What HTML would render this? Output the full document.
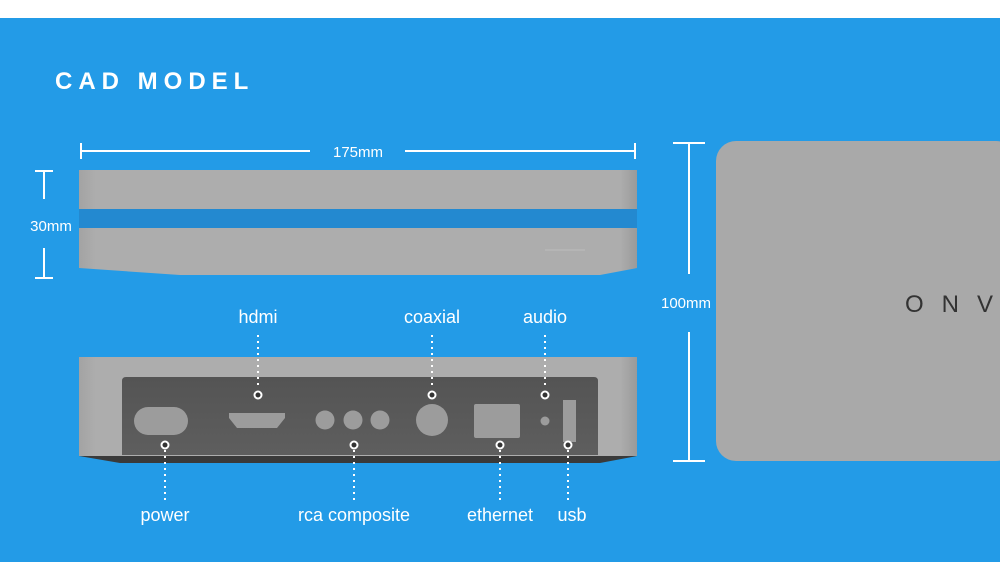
<!DOCTYPE html>
<html><head><meta charset="utf-8"><style>
html,body{margin:0;padding:0;width:1000px;height:562px;overflow:hidden;background:#fff}
svg{display:block}
text{font-family:"Liberation Sans",sans-serif}
</style></head><body>
<svg width="1000" height="562" viewBox="0 0 1000 562">
<defs>
<linearGradient id="g1" x1="0" x2="1" y1="0" y2="0">
<stop offset="0" stop-color="#a3a3a3"/><stop offset="0.03" stop-color="#adadad"/><stop offset="0.97" stop-color="#adadad"/><stop offset="1" stop-color="#9a9a9a"/>
</linearGradient>
<linearGradient id="g2" x1="0" x2="0" y1="0" y2="1">
<stop offset="0" stop-color="#545454"/><stop offset="1" stop-color="#5e5e5e"/>
</linearGradient>
</defs>
<rect x="0" y="18" width="1000" height="544" fill="#239be7"/>
<text x="55" y="89" fill="#fff" font-size="24" font-weight="bold" letter-spacing="6">CAD MODEL</text>

<g stroke="#fff" stroke-width="2">
<line x1="81" y1="151" x2="310" y2="151"/><line x1="405" y1="151" x2="635" y2="151"/>
<line x1="81" y1="143" x2="81" y2="159"/><line x1="635" y1="143" x2="635" y2="159"/>
<line x1="44" y1="171" x2="44" y2="199"/><line x1="44" y1="248" x2="44" y2="278"/>
<line x1="35" y1="171" x2="53" y2="171"/><line x1="35" y1="278" x2="53" y2="278"/>
<line x1="689" y1="143" x2="689" y2="274"/><line x1="689" y1="332" x2="689" y2="461"/>
<line x1="673" y1="143" x2="705" y2="143"/><line x1="673" y1="461" x2="705" y2="461"/>
</g>
<text x="358" y="157" fill="#fff" font-size="15" text-anchor="middle">175mm</text>
<text x="51" y="231" fill="#fff" font-size="15" text-anchor="middle">30mm</text>
<text x="686" y="308" fill="#fff" font-size="15" text-anchor="middle">100mm</text>

<path d="M79 170 H637 V268 L600 275 H180 L79 268 Z" fill="url(#g1)"/>
<rect x="79" y="209" width="558" height="19" fill="#2389d0"/>
<line x1="545" y1="250" x2="585" y2="250" stroke="#b5b5b5" stroke-width="2"/>

<path d="M79 357 H637 V456 L600 463 H120 L79 456 Z" fill="#3a3a3a"/>
<rect x="79" y="357" width="558" height="99" fill="url(#g1)"/>
<path d="M126 377 H594 Q598 377 598 381 V455 H122 V381 Q122 377 126 377 Z" fill="url(#g2)"/>
<g fill="#9c9c9c">
<rect x="134" y="407" width="54" height="28" rx="14"/>
<path d="M229 413 H285 V418 L277 428 H237 L229 418 Z"/>
<circle cx="325" cy="420" r="9.5"/><circle cx="353" cy="420" r="9.5"/><circle cx="380" cy="420" r="9.5"/>
<circle cx="432" cy="420" r="16"/>
<rect x="474" y="404" width="46" height="34" rx="2"/>
<circle cx="545" cy="421" r="4.5"/>
<rect x="563" y="400" width="13" height="42"/>
</g>
<rect x="716" y="141" width="300" height="320" rx="20" fill="#a9a9a9"/>
<text x="905" y="312" fill="#333" font-size="24" letter-spacing="18">ONV</text>

<g stroke="#fff" stroke-width="2" stroke-dasharray="2 4" fill="none">
<line x1="258" y1="335" x2="258" y2="389"/>
<line x1="432" y1="335" x2="432" y2="389"/>
<line x1="545" y1="335" x2="545" y2="389"/>
<line x1="165" y1="450" x2="165" y2="500"/>
<line x1="354" y1="450" x2="354" y2="500"/>
<line x1="500" y1="450" x2="500" y2="500"/>
<line x1="568" y1="450" x2="568" y2="500"/>
</g>
<g stroke="#fff" stroke-width="2" fill="#333">
<circle cx="258" cy="395" r="3.5"/><circle cx="432" cy="395" r="3.5"/><circle cx="545" cy="395" r="3.5"/>
<circle cx="165" cy="445" r="3.5"/><circle cx="354" cy="445" r="3.5"/><circle cx="500" cy="445" r="3.5"/><circle cx="568" cy="445" r="3.5"/>
</g>
<g fill="#fff" font-size="18" text-anchor="middle">
<text x="258" y="323">hdmi</text><text x="432" y="323">coaxial</text><text x="545" y="323">audio</text>
<text x="165" y="521">power</text><text x="354" y="521">rca composite</text><text x="500" y="521">ethernet</text><text x="572" y="521">usb</text>
</g>
</svg>
</body></html>
